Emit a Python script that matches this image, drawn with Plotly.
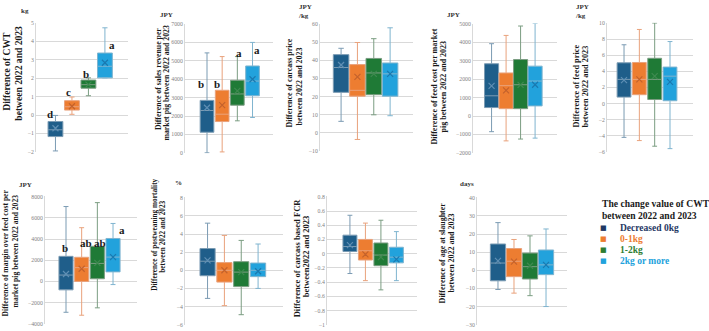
import plotly.graph_objects as go

W, H = 709, 331

groups = ["Decreased 0kg", "0-1kg", "1-2kg", "2kg or more"]
fills = ["#1f5e8a", "#ed7d31", "#1f7a36", "#22a2dc"]
lines = ["#7b9bb3", "#e9a27c", "#7b9d82", "#7fb4cf"]
mean_colors = ["#5f8fb4", "#c4622c", "#3f8a50", "#1a79b0"]
legend_colors = ["#1f3864", "#ed7d31", "#2e7d32", "#22a2dc"]

# ---- box statistics per panel: [lowerfence, q1, median, q3, upperfence, mean] for each group
cwt = [[-1.95, -1.17, -0.8, -0.35, -0.02, -0.72],
       [0.04, 0.27, 0.45, 0.78, 0.98, 0.48],
       [1.05, 1.46, 1.65, 1.9, 2.02, 1.65],
       [2.02, 2.02, 2.65, 3.37, 4.74, 2.84]]
revenue = [[0, 1120, 2300, 2850, 5430, 2450],
           [50, 1700, 2100, 3400, 5230, 2590],
           [1740, 2590, 3200, 3940, 5230, 3370],
           [1920, 3100, 3900, 4720, 6000, 4000]]
carcass_price = [[6.3, 22.3, 36.0, 43.1, 46.6, 37.4],
                 [-3.7, 20.2, 23.4, 37.6, 49.8, 30.8],
                 [9.9, 21.0, 33.0, 41.0, 51.9, 32.5],
                 [9.4, 20.2, 32.5, 38.5, 57.9, 32.5]]
feed_cost = [[-850, 460, 1100, 2840, 3930, 1640],
             [-1350, 400, 1650, 2340, 4380, 1390],
             [-1250, 400, 1700, 3070, 4890, 1690],
             [-1200, 550, 1900, 2710, 5030, 1700]]
feed_price = [[-4.2, 0.8, 3.0, 5.06, 7.3, 2.9],
              [-4.6, 1.1, 3.0, 5.1, 9.2, 3.0],
              [-5.3, 0.5, 3.0, 5.62, 10.0, 3.4],
              [-5.6, 0.35, 3.4, 4.53, 7.7, 2.7]]
margin = [[-2920, -800, 600, 2370, 7080, 700],
          [-3200, 0, 1300, 2280, 5080, 1200],
          [-2500, 250, 1700, 3320, 7450, 1750],
          [-300, 900, 2300, 4060, 5480, 2300]]
mortality = [[-3.1, -0.6, 1.0, 2.4, 5.2, 1.1],
             [-3.9, -1.3, 0.0, 0.85, 3.85, 0.0],
             [-4.9, -1.8, -0.2, 0.95, 3.3, -0.2],
             [-2.0, -0.7, 0.0, 0.8, 2.9, -0.1]]
fcr = [[-0.28, 0.03, 0.1, 0.26, 0.54, 0.12],
       [-0.38, -0.09, 0.04, 0.2, 0.43, -0.01],
       [-0.51, -0.17, -0.02, 0.15, 0.47, -0.05],
       [-0.38, -0.13, -0.05, 0.09, 0.31, -0.08]]
age = [[-10.6, -5.8, 4.0, 14.5, 26.3, 5.2],
       [-12.6, -3.5, 5.0, 12.0, 17.0, 4.8],
       [-14.0, -4.8, 2.0, 9.5, 19.0, 2.5],
       [-20.0, -2.4, 3.0, 11.2, 22.8, 3.0]]

titles = [
    ["Difference of CWT", "between 2022 and 2023"],
    ["Difference of sales revenue per", "market pig between 2022 and 2023"],
    ["Difference of carcass price", "between 2022 and 2023"],
    ["Difference of feed cost per market", "pig between 2022 and 2023"],
    ["Difference of feed price", "between 2022 and 2023"],
    ["Difference of margin over feed cost per", "market pig between 2022 and 2023"],
    ["Difference of postweaning mortality", "between 2022 and 2023"],
    ["Difference of carcass based FCR", "between2022 and 2023"],
    ["Difference of age at slaughter", "between 2022 and 2023"],
]
units = ["kg", "JPY", "JPY<br>/kg", "JPY", "JPY<br>/kg", "JPY", "%", "", "days"]
y_ranges = [(-2, 5), (0, 7000), (-10, 60), (-2000, 5000), (-6, 10),
            (-4000, 8000), (-6, 8), (-1, 0.8), (-30, 40)]
y_dticks = [1, 1000, 10, 1000, 2, 2000, 2, 0.2, 10]
letters = [
    [("d", 0.67, 0.07), ("c", 1.82, 1.24), ("b", 2.85, 2.24), ("a", 4.43, 3.78)],
    [("b", 0.60, 3765), ("b", 1.66, 3765), ("a", 3.11, 5408), ("a", 4.30, 5567)],
    [], [], [],
    [("b", 0.94, 3200), ("ab", 2.28, 3660), ("ab", 3.17, 3660), ("a", 4.57, 4860)],
    [], [], [],
]
panels = [cwt, revenue, carcass_price, feed_cost, feed_price, margin, mortality, fcr, age]

# ---- layout geometry (pixels)
plot_px = [  # x0, x1, ytop, ybottom
    (36, 128, 20, 152), (185, 273, 21, 153), (320, 413, 21, 151), (473, 557, 21, 153),
    (607, 693, 20, 152), (45, 137, 197, 327), (185, 283, 198, 328), (327, 417, 197, 328),
    (477, 567, 198, 328)]
x_ranges = [(-0.18, 5.40), (-0.45, 5.35), (-0.29, 5.40), (-0.28, 5.51), (-0.11, 5.50),
            (-0.34, 5.53), (-0.34, 5.48), (-0.48, 5.33), (-0.31, 5.31)]
box_w = [0.9, 0.9, 0.95, 0.97, 0.9, 0.9, 0.9, 0.9, 0.95]
# (line1 x, line1 y, line2 x, line2 y, font size)
title_pos = [(7, 70, 19, 72, 9.6), (158.5, 78, 167, 81, 7.8), (290, 82, 299, 85, 7.9),
             (434, 85, 443, 85, 8.0), (576, 85, 585, 85, 8.3), (5, 255, 15, 253, 7.6),
             (155, 236, 163, 238, 7.3), (297, 260, 306, 258, 8.5), (442, 255, 451, 255, 8.0)]
unit_pos = [(25, 8), (166, 12), (305, 9), (453, 12), (582, 9), (25, 185), (178, 183),
            (0, 0), (467, 184)]

SERIF = "Liberation Serif, Times New Roman, serif"

def px(x):
    return x / W

def py(y):
    return 1 - y / H

fig = go.Figure()
layout = dict(width=W, height=H, margin=dict(l=0, r=0, t=0, b=0),
              paper_bgcolor="white", plot_bgcolor="white", showlegend=False)
annotations = []

for p, data in enumerate(panels):
    k = "" if p == 0 else str(p + 1)
    xa, ya = "x" + k, "y" + k
    for g in range(4):
        lf, q1, med, q3, uf, mean = data[g]
        fig.add_trace(go.Box(
            x=[g + 1], q1=[q1], median=[med], q3=[q3], lowerfence=[lf], upperfence=[uf],
            fillcolor=fills[g], line=dict(color=lines[g], width=1), width=box_w[p],
            whiskerwidth=0.35, boxpoints=False, name=groups[g], xaxis=xa, yaxis=ya,
            hoverinfo="skip"))
        fig.add_trace(go.Scatter(
            x=[g + 1], y=[mean], mode="markers",
            marker=dict(symbol="x-thin", size=6, line=dict(color=mean_colors[g], width=1.2)),
            xaxis=xa, yaxis=ya, hoverinfo="skip"))
    x0, x1, yt, yb = plot_px[p]
    lo, hi = y_ranges[p]
    eps = (hi - lo) * 0.003
    layout["xaxis" + k] = dict(domain=[px(x0), px(x1)], range=list(x_ranges[p]),
                               showgrid=False, showticklabels=False, zeroline=False,
                               showline=False, anchor=ya, fixedrange=True)
    layout["yaxis" + k] = dict(domain=[py(yb), py(yt)], range=[lo - eps, hi + eps],
                               dtick=y_dticks[p], tick0=lo, showgrid=True, gridcolor="#d9d9d9",
                               gridwidth=1, zeroline=False, showline=True, linecolor="#d9d9d9",
                               linewidth=1, ticks="", anchor=xa,
                               tickfont=dict(family=SERIF, size=5.8, color="#7f7f7f"))
    l1x, l1y, l2x, l2y, fs = title_pos[p]
    for (t, tx, ty) in [(titles[p][0], l1x, l1y), (titles[p][1], l2x, l2y)]:
        annotations.append(dict(text="<b>" + t + "</b>", x=px(tx), y=py(ty),
                                xref="paper", yref="paper", showarrow=False, textangle=-90,
                                xanchor="center", yanchor="middle",
                                font=dict(family=SERIF, size=fs, color="#1a1a1a")))
    if units[p]:
        ux, uy = unit_pos[p]
        annotations.append(dict(text="<b>" + units[p] + "</b>", x=px(ux), y=py(uy),
                                xref="paper", yref="paper", showarrow=False,
                                xanchor="center", yanchor="middle", align="left",
                                font=dict(family=SERIF, size=7, color="#333333")))
    for (t, lx, ly) in letters[p]:
        annotations.append(dict(text="<b>" + t + "</b>", x=lx, y=ly, xref=xa, yref=ya,
                                showarrow=False, xanchor="center", yanchor="middle",
                                font=dict(family=SERIF, size=11, color="#1a1a1a")))

# legend built from annotations
annotations.append(dict(text="<b>The change value of CWT</b>", x=px(600), y=py(204),
                        xref="paper", yref="paper", showarrow=False, xanchor="left",
                        yanchor="middle", font=dict(family=SERIF, size=9.6, color="#1a1a1a")))
annotations.append(dict(text="<b>between 2022 and 2023</b>", x=px(600), y=py(216),
                        xref="paper", yref="paper", showarrow=False, xanchor="left",
                        yanchor="middle", font=dict(family=SERIF, size=9.6, color="#1a1a1a")))
leg_y = [229, 240, 252, 263]
for g in range(4):
    annotations.append(dict(text="■", x=px(603), y=py(leg_y[g]), xref="paper", yref="paper",
                            showarrow=False, xanchor="center", yanchor="middle",
                            font=dict(family="DejaVu Sans", size=7, color=legend_colors[g])))
    annotations.append(dict(text="<b>" + groups[g] + "</b>", x=px(618), y=py(leg_y[g]),
                            xref="paper", yref="paper", showarrow=False, xanchor="left",
                            yanchor="middle",
                            font=dict(family=SERIF, size=9.5, color=legend_colors[g])))

layout["annotations"] = annotations
fig.update_layout(**layout)
fig.write_html("out.html")
